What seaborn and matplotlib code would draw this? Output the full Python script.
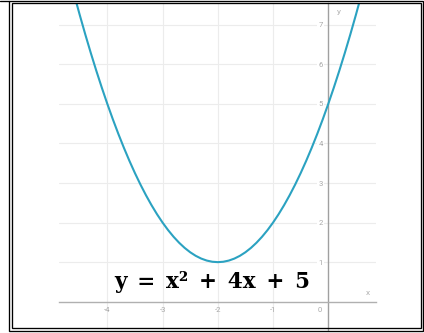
import matplotlib
matplotlib.use("Agg")
import matplotlib.pyplot as plt
import matplotlib.transforms as mtransforms
from matplotlib.patches import Rectangle
from matplotlib.lines import Line2D
import seaborn as sns

x_vals = [-4.8, -4.7, -4.6, -4.5, -4.4, -4.3, -4.2, -4.1, -4.0, -3.9,
          -3.8, -3.7, -3.6, -3.5, -3.4, -3.3, -3.2, -3.1, -3.0, -2.9,
          -2.8, -2.7, -2.6, -2.5, -2.4, -2.3, -2.2, -2.1, -2.0, -1.9,
          -1.8, -1.7, -1.6, -1.5, -1.4, -1.3, -1.2, -1.1, -1.0, -0.9,
          -0.8, -0.7, -0.6, -0.5, -0.4, -0.3, -0.2, -0.1, 0.0, 0.1,
          0.2, 0.3, 0.4, 0.5, 0.6, 0.7, 0.8]
y_vals = [8.84, 8.29, 7.76, 7.25, 6.76, 6.29, 5.84, 5.41, 5.00, 4.61,
          4.24, 3.89, 3.56, 3.25, 2.96, 2.69, 2.44, 2.21, 2.00, 1.81,
          1.64, 1.49, 1.36, 1.25, 1.16, 1.09, 1.04, 1.01, 1.00, 1.01,
          1.04, 1.09, 1.16, 1.25, 1.36, 1.49, 1.64, 1.81, 2.00, 2.21,
          2.44, 2.69, 2.96, 3.25, 3.56, 3.89, 4.24, 4.61, 5.00, 5.41,
          5.84, 6.29, 6.76, 7.25, 7.76, 8.29, 8.84]
x_ticks = [-4, -3, -2, -1, 0]
y_ticks = [1, 2, 3, 4, 5, 6, 7]
equation = "y\u2002=\u2002x²\u2002+\u20024x\u2002+\u20025"

sns.set_theme(style="white")
plt.rcParams["font.family"] = ["Roboto", "DejaVu Sans"]

fig = plt.figure(figsize=(4.24, 3.33), dpi=100)
fig.patch.set_facecolor("white")
ax = fig.add_axes([59 / 424, 3 / 333, 317 / 424, 327 / 333])

sns.lineplot(x=x_vals, y=y_vals, sort=False, color="#2ba2c1", linewidth=1.5, ax=ax, zorder=3)

ax.set_xlim(-4.875, 0.864)
ax.set_ylim(-0.715, 7.55)

# grid
for xv in x_ticks[:-1]:
    ax.axvline(xv, color="#ececec", linewidth=0.8, zorder=0)
for yv in y_ticks:
    ax.axhline(yv, color="#ececec", linewidth=0.8, zorder=0)

# axes through the origin
for side in ["top", "right"]:
    ax.spines[side].set_visible(False)
ax.spines["left"].set_position(("data", 0))
ax.spines["bottom"].set_position(("data", 0))
ax.spines["left"].set_color("#a0a0a0")
ax.spines["bottom"].set_color("#b0b0b0")
ax.spines["left"].set_linewidth(1.0)
ax.spines["bottom"].set_linewidth(1.0)
ax.spines["left"].set_zorder(1)
ax.spines["bottom"].set_zorder(1)

ax.set_xticks(x_ticks)
ax.set_xticklabels([str(t) for t in x_ticks])
ax.set_yticks(y_ticks)
ax.set_yticklabels([str(t) for t in y_ticks])
ax.tick_params(axis="both", length=0, labelsize=5.5, labelcolor="#a8a8a8")
ax.tick_params(axis="x", pad=4)
ax.tick_params(axis="y", pad=4)
for lab in ax.get_yticklabels():
    lab.set_bbox(dict(facecolor="white", edgecolor="none", pad=1.0))
# the origin label sits to the left of the y axis
zero_lab = ax.get_xticklabels()[-1]
zero_lab.set_transform(zero_lab.get_transform() +
                       mtransforms.ScaledTranslation(-9 / 100, 0, fig.dpi_scale_trans))

ax.text(0.19, 7.32, "y", fontsize=6, color="#b0b0b0", ha="center", va="center")
ax.text(0.71, 0.23, "x", fontsize=6, color="#b0b0b0", ha="center", va="center")

ax.text(-2.10, 0.35, equation, family=["DejaVu Serif"],
        fontweight="bold", fontsize=15.5, color="black", ha="center", va="baseline", zorder=4)

# double frame around the picture
lw = 0.95
fig.patches.append(Rectangle((8.6 / 424, 1.6 / 333), 414.8 / 424, 330.8 / 333,
                             transform=fig.transFigure, fill=False,
                             edgecolor="black", linewidth=lw))
fig.patches.append(Rectangle((11.9 / 424, 5 / 333), 409.2 / 424, 324.6 / 333,
                             transform=fig.transFigure, fill=False,
                             edgecolor="black", linewidth=lw))
fig.lines.append(Line2D([0, 8.6 / 424], [332.4 / 333, 332.4 / 333],
                        transform=fig.transFigure, color="black", linewidth=lw))

fig.savefig("out.png", dpi=100)
